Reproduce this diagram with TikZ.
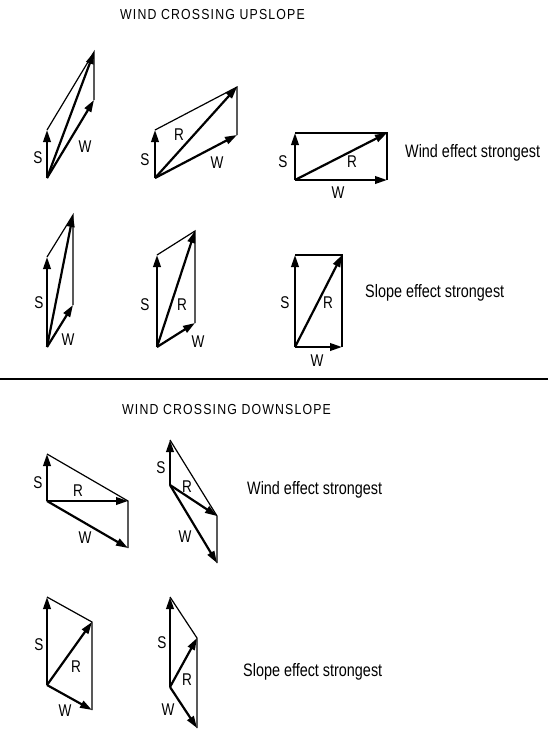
\documentclass[tikz,border=0pt]{standalone}
\usepackage{fontspec}
\setmainfont{Liberation Sans}[FakeStretch=0.8]
\newfontfamily\titlefont{Liberation Sans}[FakeStretch=0.85,LetterSpace=8]
\usetikzlibrary{arrows.meta}
\begin{document}
\begin{tikzpicture}[x=1pt,y=-1pt,
  vec/.style={line width=2.2pt,-{Triangle[length=12pt,width=7.5pt]}},
  side/.style={line width=1.2pt},
  lab/.style={font=\fontsize{17}{17}\selectfont,inner sep=0pt},
  caption/.style={font=\fontsize{18}{18}\selectfont,inner sep=0pt,anchor=west},
  heading/.style={font=\titlefont\fontsize{14.5}{15}\selectfont,inner sep=0pt,anchor=west}]
\useasboundingbox (0,0) rectangle (559,732);

% headings
\node[heading] (t1) at (120,15) {WIND CROSSING UPSLOPE};
\node[heading] (t2) at (122,410) {WIND CROSSING DOWNSLOPE};

% separator
\coordinate (l1) at (0,379);
\coordinate (l2) at (548,379);
\draw[line width=2pt] (l1) -- (l2);

% ---- upslope, diagram A
\coordinate (aO) at (47,178); \coordinate (aS) at (47,130);
\coordinate (aW) at (94,100); \coordinate (aR) at (94,52);
\draw[side] (aS) -- (aR) -- (aW);
\draw[vec] (aO) -- (aS);
\draw[vec] (aO) -- (aW);
\draw[vec] (aO) -- (aR);
\node[lab] (aSl) at (38,158) {S};
\node[lab] (aWl) at (85,147) {W};

% ---- upslope, diagram B
\coordinate (bO) at (155,178); \coordinate (bS) at (155,130);
\coordinate (bW) at (237,135); \coordinate (bR) at (237,87);
\draw[side] (bS) -- (bR) -- (bW);
\draw[vec] (bO) -- (bS);
\draw[vec] (bO) -- (bW);
\draw[vec] (bO) -- (bR);
\node[lab] (bSl) at (145,160) {S};
\node[lab] (bRl) at (179,135) {R};
\node[lab] (bWl) at (217,163) {W};

% ---- upslope, diagram C
\coordinate (cO) at (295,180); \coordinate (cS) at (295,133);
\coordinate (cW) at (387,180); \coordinate (cR) at (387,133);
\draw[side] (cS) -- (cR) -- (cW);
\draw[vec] (cO) -- (cS);
\draw[vec] (cO) -- (cW);
\draw[vec] (cO) -- (cR);
\node[lab] (cSl) at (283,162) {S};
\node[lab] (cRl) at (352,162) {R};
\node[lab] (cWl) at (338,193) {W};
\node[caption] (cap1) at (405,153) {Wind effect strongest};

% ---- upslope, diagram D
\coordinate (dO) at (47,347); \coordinate (dS) at (47,257);
\coordinate (dW) at (73,305); \coordinate (dR) at (73,215);
\draw[side] (dS) -- (dR) -- (dW);
\draw[vec] (dO) -- (dS);
\draw[vec] (dO) -- (dW);
\draw[vec] (dO) -- (dR);
\node[lab] (dSl) at (39,303) {S};
\node[lab] (dWl) at (68,340) {W};

% ---- upslope, diagram E
\coordinate (eO) at (157,347); \coordinate (eS) at (157,255);
\coordinate (eW) at (195,323); \coordinate (eR) at (195,231);
\draw[side] (eS) -- (eR) -- (eW);
\draw[vec] (eO) -- (eS);
\draw[vec] (eO) -- (eW);
\draw[vec] (eO) -- (eR);
\node[lab] (eSl) at (145,305) {S};
\node[lab] (eRl) at (182,305) {R};
\node[lab] (eWl) at (198,342) {W};

% ---- upslope, diagram F
\coordinate (fO) at (295,347); \coordinate (fS) at (295,255);
\coordinate (fW) at (342,347); \coordinate (fR) at (342,255);
\draw[side] (fS) -- (fR) -- (fW);
\draw[vec] (fO) -- (fS);
\draw[vec] (fO) -- (fW);
\draw[vec] (fO) -- (fR);
\node[lab] (fSl) at (285,303) {S};
\node[lab] (fRl) at (328,303) {R};
\node[lab] (fWl) at (317,361) {W};
\node[caption] (cap2) at (365,293) {Slope effect strongest};

% ---- downslope, diagram G
\coordinate (gO) at (47,501); \coordinate (gS) at (47,454);
\coordinate (gW) at (128,548); \coordinate (gR) at (128,501);
\draw[side] (gS) -- (gR) -- (gW);
\draw[vec] (gO) -- (gS);
\draw[vec] (gO) -- (gW);
\draw[vec] (gO) -- (gR);
\node[lab] (gSl) at (38,483) {S};
\node[lab] (gRl) at (78,491) {R};
\node[lab] (gWl) at (85,538) {W};

% ---- downslope, diagram H
\coordinate (hO) at (170,485); \coordinate (hS) at (170,440);
\coordinate (hW) at (217,563); \coordinate (hR) at (217,516);
\draw[side] (hS) -- (hR) -- (hW);
\draw[vec] (hO) -- (hS);
\draw[vec] (hO) -- (hW);
\draw[vec] (hO) -- (hR);
\node[lab] (hSl) at (161,468) {S};
\node[lab] (hRl) at (187,487) {R};
\node[lab] (hWl) at (185,537) {W};
\node[caption] (cap3) at (247,490) {Wind effect strongest};

% ---- downslope, diagram I
\coordinate (iO) at (47,685); \coordinate (iS) at (47,597);
\coordinate (iW) at (92,710); \coordinate (iR) at (92,622);
\draw[side] (iS) -- (iR) -- (iW);
\draw[vec] (iO) -- (iS);
\draw[vec] (iO) -- (iW);
\draw[vec] (iO) -- (iR);
\node[lab] (iSl) at (39,645) {S};
\node[lab] (iRl) at (76,667) {R};
\node[lab] (iWl) at (65,711) {W};

% ---- downslope, diagram J
\coordinate (jO) at (170,687); \coordinate (jS) at (170,597);
\coordinate (jW) at (197,728); \coordinate (jR) at (197,638);
\draw[side] (jS) -- (jR) -- (jW);
\draw[vec] (jO) -- (jS);
\draw[vec] (jO) -- (jW);
\draw[vec] (jO) -- (jR);
\node[lab] (jSl) at (162,643) {S};
\node[lab] (jRl) at (187,680) {R};
\node[lab] (jWl) at (168,710) {W};
\node[caption] (cap4) at (243,672) {Slope effect strongest};
\end{tikzpicture}
\end{document}
